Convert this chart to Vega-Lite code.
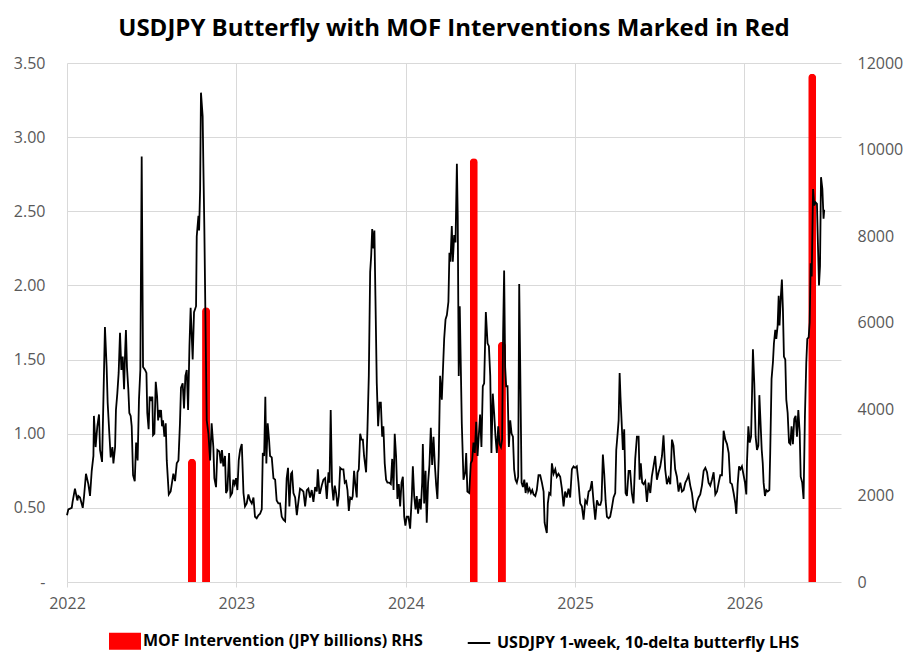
{
  "$schema": "https://vega.github.io/schema/vega-lite/v6.json",
  "description": "USDJPY 1-week 10-delta butterfly with MOF interventions",
  "width": 774,
  "height": 519,
  "autosize": {"type": "none"},
  "padding": {"left": 67, "top": 63, "right": 72, "bottom": 83},
  "background": "white",
  "title": {
    "text": "USDJPY Butterfly with MOF Interventions Marked in Red",
    "font": "Open Sans",
    "fontSize": 24,
    "fontWeight": "bold",
    "color": "#000000",
    "anchor": "middle",
    "offset": 14
  },
  "datasets": {
    "mof": [
      {"t": 2022.738, "amt": 2850},
      {"t": 2022.821, "amt": 6350},
      {"t": 2024.402, "amt": 9800},
      {"t": 2024.568, "amt": 5550},
      {"t": 2026.400, "amt": 11750}
    ],
    "fly": [
      {"t": 2022.000, "v": 0.45}, {"t": 2022.008, "v": 0.49}, {"t": 2022.028, "v": 0.50}, {"t": 2022.033, "v": 0.54},
      {"t": 2022.047, "v": 0.63}, {"t": 2022.061, "v": 0.55}, {"t": 2022.067, "v": 0.58}, {"t": 2022.077, "v": 0.57},
      {"t": 2022.093, "v": 0.50}, {"t": 2022.100, "v": 0.57}, {"t": 2022.112, "v": 0.73}, {"t": 2022.126, "v": 0.66},
      {"t": 2022.136, "v": 0.58}, {"t": 2022.146, "v": 0.75}, {"t": 2022.156, "v": 0.85}, {"t": 2022.159, "v": 1.12},
      {"t": 2022.169, "v": 0.91}, {"t": 2022.179, "v": 1.05}, {"t": 2022.189, "v": 1.13}, {"t": 2022.195, "v": 0.89},
      {"t": 2022.207, "v": 0.81}, {"t": 2022.215, "v": 1.23}, {"t": 2022.224, "v": 1.72}, {"t": 2022.234, "v": 1.45},
      {"t": 2022.240, "v": 1.21}, {"t": 2022.250, "v": 1.00}, {"t": 2022.258, "v": 0.84}, {"t": 2022.268, "v": 0.91},
      {"t": 2022.274, "v": 0.80}, {"t": 2022.284, "v": 0.91}, {"t": 2022.289, "v": 1.16}, {"t": 2022.297, "v": 1.27},
      {"t": 2022.305, "v": 1.41}, {"t": 2022.313, "v": 1.68}, {"t": 2022.321, "v": 1.43}, {"t": 2022.329, "v": 1.52},
      {"t": 2022.337, "v": 1.30}, {"t": 2022.343, "v": 1.55}, {"t": 2022.348, "v": 1.70}, {"t": 2022.354, "v": 1.45},
      {"t": 2022.362, "v": 1.30}, {"t": 2022.368, "v": 1.14}, {"t": 2022.376, "v": 1.12}, {"t": 2022.382, "v": 1.05},
      {"t": 2022.390, "v": 0.72}, {"t": 2022.400, "v": 0.68}, {"t": 2022.408, "v": 0.94}, {"t": 2022.417, "v": 0.82},
      {"t": 2022.425, "v": 1.23}, {"t": 2022.433, "v": 1.43}, {"t": 2022.441, "v": 2.87}, {"t": 2022.449, "v": 1.45},
      {"t": 2022.461, "v": 1.43}, {"t": 2022.469, "v": 1.41}, {"t": 2022.474, "v": 1.14}, {"t": 2022.482, "v": 1.03},
      {"t": 2022.488, "v": 1.25}, {"t": 2022.496, "v": 1.23}, {"t": 2022.504, "v": 1.25}, {"t": 2022.508, "v": 0.99},
      {"t": 2022.516, "v": 1.00}, {"t": 2022.524, "v": 1.35}, {"t": 2022.532, "v": 1.25}, {"t": 2022.538, "v": 1.09},
      {"t": 2022.543, "v": 1.16}, {"t": 2022.549, "v": 1.11}, {"t": 2022.555, "v": 1.16}, {"t": 2022.561, "v": 1.05},
      {"t": 2022.567, "v": 1.09}, {"t": 2022.575, "v": 0.98}, {"t": 2022.583, "v": 1.07}, {"t": 2022.589, "v": 0.82},
      {"t": 2022.601, "v": 0.59}, {"t": 2022.612, "v": 0.61}, {"t": 2022.620, "v": 0.67}, {"t": 2022.628, "v": 0.73},
      {"t": 2022.638, "v": 0.68}, {"t": 2022.648, "v": 0.80}, {"t": 2022.658, "v": 0.82}, {"t": 2022.667, "v": 1.07},
      {"t": 2022.673, "v": 1.31}, {"t": 2022.683, "v": 1.34}, {"t": 2022.691, "v": 1.17}, {"t": 2022.699, "v": 1.39},
      {"t": 2022.707, "v": 1.43}, {"t": 2022.715, "v": 1.16}, {"t": 2022.723, "v": 1.59}, {"t": 2022.730, "v": 1.85},
      {"t": 2022.742, "v": 1.50}, {"t": 2022.750, "v": 1.82}, {"t": 2022.762, "v": 1.86}, {"t": 2022.766, "v": 2.33},
      {"t": 2022.776, "v": 2.47}, {"t": 2022.780, "v": 2.37}, {"t": 2022.786, "v": 2.65}, {"t": 2022.791, "v": 3.30},
      {"t": 2022.801, "v": 3.14}, {"t": 2022.805, "v": 2.82}, {"t": 2022.811, "v": 2.38}, {"t": 2022.817, "v": 1.82},
      {"t": 2022.825, "v": 1.09}, {"t": 2022.835, "v": 1.00}, {"t": 2022.845, "v": 0.82}, {"t": 2022.854, "v": 1.07},
      {"t": 2022.864, "v": 0.91}, {"t": 2022.870, "v": 0.70}, {"t": 2022.880, "v": 0.64}, {"t": 2022.888, "v": 0.89},
      {"t": 2022.900, "v": 0.88}, {"t": 2022.908, "v": 0.80}, {"t": 2022.915, "v": 0.89}, {"t": 2022.923, "v": 0.78},
      {"t": 2022.933, "v": 0.85}, {"t": 2022.939, "v": 0.60}, {"t": 2022.947, "v": 0.62}, {"t": 2022.957, "v": 0.87},
      {"t": 2022.965, "v": 0.58}, {"t": 2022.975, "v": 0.60}, {"t": 2022.982, "v": 0.69}, {"t": 2022.990, "v": 0.66},
      {"t": 2022.998, "v": 0.70}, {"t": 2023.006, "v": 0.62}, {"t": 2023.014, "v": 0.82}, {"t": 2023.022, "v": 0.89},
      {"t": 2023.032, "v": 0.93}, {"t": 2023.042, "v": 0.60}, {"t": 2023.051, "v": 0.51}, {"t": 2023.061, "v": 0.53},
      {"t": 2023.071, "v": 0.59}, {"t": 2023.081, "v": 0.55}, {"t": 2023.091, "v": 0.53}, {"t": 2023.101, "v": 0.57},
      {"t": 2023.110, "v": 0.44}, {"t": 2023.120, "v": 0.43}, {"t": 2023.130, "v": 0.45}, {"t": 2023.140, "v": 0.46},
      {"t": 2023.150, "v": 0.49}, {"t": 2023.156, "v": 0.87}, {"t": 2023.164, "v": 0.85}, {"t": 2023.171, "v": 1.25},
      {"t": 2023.177, "v": 0.80}, {"t": 2023.185, "v": 1.07}, {"t": 2023.193, "v": 0.96}, {"t": 2023.199, "v": 0.85},
      {"t": 2023.209, "v": 0.84}, {"t": 2023.219, "v": 0.70}, {"t": 2023.229, "v": 0.69}, {"t": 2023.238, "v": 0.55},
      {"t": 2023.248, "v": 0.53}, {"t": 2023.258, "v": 0.53}, {"t": 2023.268, "v": 0.44}, {"t": 2023.278, "v": 0.42},
      {"t": 2023.288, "v": 0.41}, {"t": 2023.297, "v": 0.70}, {"t": 2023.305, "v": 0.77}, {"t": 2023.313, "v": 0.51},
      {"t": 2023.323, "v": 0.73}, {"t": 2023.329, "v": 0.74}, {"t": 2023.337, "v": 0.60}, {"t": 2023.347, "v": 0.57},
      {"t": 2023.357, "v": 0.45}, {"t": 2023.364, "v": 0.52}, {"t": 2023.376, "v": 0.63}, {"t": 2023.388, "v": 0.62},
      {"t": 2023.396, "v": 0.61}, {"t": 2023.406, "v": 0.51}, {"t": 2023.416, "v": 0.62}, {"t": 2023.425, "v": 0.63},
      {"t": 2023.435, "v": 0.57}, {"t": 2023.445, "v": 0.62}, {"t": 2023.455, "v": 0.54}, {"t": 2023.465, "v": 0.64},
      {"t": 2023.475, "v": 0.61}, {"t": 2023.481, "v": 0.76}, {"t": 2023.490, "v": 0.60}, {"t": 2023.494, "v": 0.60},
      {"t": 2023.504, "v": 0.65}, {"t": 2023.514, "v": 0.69}, {"t": 2023.524, "v": 0.70}, {"t": 2023.534, "v": 0.56},
      {"t": 2023.544, "v": 0.74}, {"t": 2023.550, "v": 0.67}, {"t": 2023.557, "v": 1.16}, {"t": 2023.565, "v": 0.65},
      {"t": 2023.573, "v": 0.55}, {"t": 2023.581, "v": 0.65}, {"t": 2023.589, "v": 0.60}, {"t": 2023.597, "v": 0.51},
      {"t": 2023.605, "v": 0.58}, {"t": 2023.613, "v": 0.77}, {"t": 2023.622, "v": 0.76}, {"t": 2023.632, "v": 0.76},
      {"t": 2023.640, "v": 0.67}, {"t": 2023.648, "v": 0.68}, {"t": 2023.656, "v": 0.62}, {"t": 2023.664, "v": 0.48},
      {"t": 2023.672, "v": 0.57}, {"t": 2023.682, "v": 0.56}, {"t": 2023.687, "v": 0.58}, {"t": 2023.695, "v": 0.75},
      {"t": 2023.703, "v": 0.65}, {"t": 2023.711, "v": 0.57}, {"t": 2023.715, "v": 0.74}, {"t": 2023.723, "v": 0.76},
      {"t": 2023.731, "v": 1.00}, {"t": 2023.739, "v": 0.96}, {"t": 2023.747, "v": 0.96}, {"t": 2023.754, "v": 0.85},
      {"t": 2023.766, "v": 0.74}, {"t": 2023.774, "v": 1.03}, {"t": 2023.782, "v": 1.39}, {"t": 2023.790, "v": 2.09},
      {"t": 2023.796, "v": 2.20}, {"t": 2023.802, "v": 2.38}, {"t": 2023.809, "v": 2.25}, {"t": 2023.815, "v": 2.37},
      {"t": 2023.821, "v": 1.93}, {"t": 2023.829, "v": 1.34}, {"t": 2023.837, "v": 1.05}, {"t": 2023.845, "v": 1.21},
      {"t": 2023.853, "v": 1.21}, {"t": 2023.861, "v": 0.98}, {"t": 2023.868, "v": 1.05}, {"t": 2023.876, "v": 0.80},
      {"t": 2023.884, "v": 0.69}, {"t": 2023.892, "v": 0.67}, {"t": 2023.902, "v": 0.67}, {"t": 2023.912, "v": 0.66},
      {"t": 2023.920, "v": 0.83}, {"t": 2023.928, "v": 0.62}, {"t": 2023.935, "v": 1.00}, {"t": 2023.943, "v": 0.85},
      {"t": 2023.951, "v": 0.56}, {"t": 2023.959, "v": 0.66}, {"t": 2023.967, "v": 0.51}, {"t": 2023.975, "v": 0.67},
      {"t": 2023.983, "v": 0.71}, {"t": 2023.991, "v": 0.44}, {"t": 2023.998, "v": 0.38}, {"t": 2024.006, "v": 0.44},
      {"t": 2024.016, "v": 0.44}, {"t": 2024.026, "v": 0.36}, {"t": 2024.036, "v": 0.58}, {"t": 2024.042, "v": 0.78},
      {"t": 2024.050, "v": 0.58}, {"t": 2024.058, "v": 0.49}, {"t": 2024.065, "v": 0.58}, {"t": 2024.073, "v": 0.46},
      {"t": 2024.081, "v": 0.56}, {"t": 2024.089, "v": 0.49}, {"t": 2024.097, "v": 0.67}, {"t": 2024.101, "v": 0.93},
      {"t": 2024.109, "v": 0.53}, {"t": 2024.117, "v": 0.75}, {"t": 2024.124, "v": 0.40}, {"t": 2024.132, "v": 0.67},
      {"t": 2024.140, "v": 0.79}, {"t": 2024.148, "v": 1.04}, {"t": 2024.156, "v": 0.79}, {"t": 2024.164, "v": 0.98},
      {"t": 2024.172, "v": 0.79}, {"t": 2024.180, "v": 0.65}, {"t": 2024.187, "v": 0.56}, {"t": 2024.195, "v": 0.85},
      {"t": 2024.203, "v": 1.39}, {"t": 2024.213, "v": 1.23}, {"t": 2024.219, "v": 1.41}, {"t": 2024.227, "v": 1.64},
      {"t": 2024.235, "v": 1.77}, {"t": 2024.243, "v": 1.80}, {"t": 2024.252, "v": 1.89}, {"t": 2024.258, "v": 2.22},
      {"t": 2024.264, "v": 2.16}, {"t": 2024.272, "v": 2.40}, {"t": 2024.278, "v": 2.16}, {"t": 2024.286, "v": 2.34},
      {"t": 2024.294, "v": 2.29}, {"t": 2024.302, "v": 2.82}, {"t": 2024.307, "v": 2.47}, {"t": 2024.313, "v": 1.39},
      {"t": 2024.319, "v": 1.86}, {"t": 2024.331, "v": 1.07}, {"t": 2024.341, "v": 0.69}, {"t": 2024.351, "v": 0.74},
      {"t": 2024.357, "v": 0.87}, {"t": 2024.364, "v": 0.61}, {"t": 2024.375, "v": 0.60}, {"t": 2024.384, "v": 0.80},
      {"t": 2024.392, "v": 0.82}, {"t": 2024.400, "v": 0.94}, {"t": 2024.408, "v": 0.87}, {"t": 2024.416, "v": 1.08},
      {"t": 2024.424, "v": 0.85}, {"t": 2024.432, "v": 1.00}, {"t": 2024.439, "v": 1.13}, {"t": 2024.447, "v": 0.91},
      {"t": 2024.455, "v": 1.32}, {"t": 2024.463, "v": 1.34}, {"t": 2024.473, "v": 1.82}, {"t": 2024.483, "v": 1.61},
      {"t": 2024.491, "v": 1.59}, {"t": 2024.499, "v": 1.39}, {"t": 2024.506, "v": 0.87}, {"t": 2024.514, "v": 1.27},
      {"t": 2024.522, "v": 1.14}, {"t": 2024.530, "v": 0.98}, {"t": 2024.538, "v": 0.87}, {"t": 2024.546, "v": 1.05},
      {"t": 2024.554, "v": 0.93}, {"t": 2024.562, "v": 0.91}, {"t": 2024.569, "v": 0.96}, {"t": 2024.575, "v": 1.68},
      {"t": 2024.581, "v": 2.10}, {"t": 2024.587, "v": 1.45}, {"t": 2024.593, "v": 1.32}, {"t": 2024.601, "v": 1.32},
      {"t": 2024.609, "v": 0.91}, {"t": 2024.617, "v": 1.09}, {"t": 2024.625, "v": 1.00}, {"t": 2024.633, "v": 0.98},
      {"t": 2024.640, "v": 0.76}, {"t": 2024.648, "v": 0.69}, {"t": 2024.656, "v": 0.67}, {"t": 2024.664, "v": 0.71},
      {"t": 2024.670, "v": 2.01}, {"t": 2024.676, "v": 1.45}, {"t": 2024.684, "v": 0.67}, {"t": 2024.692, "v": 0.64},
      {"t": 2024.700, "v": 0.69}, {"t": 2024.708, "v": 0.60}, {"t": 2024.715, "v": 0.67}, {"t": 2024.723, "v": 0.61},
      {"t": 2024.731, "v": 0.63}, {"t": 2024.739, "v": 0.60}, {"t": 2024.747, "v": 0.62}, {"t": 2024.755, "v": 0.59},
      {"t": 2024.765, "v": 0.58}, {"t": 2024.774, "v": 0.62}, {"t": 2024.784, "v": 0.72}, {"t": 2024.794, "v": 0.72},
      {"t": 2024.804, "v": 0.67}, {"t": 2024.814, "v": 0.61}, {"t": 2024.820, "v": 0.40}, {"t": 2024.827, "v": 0.36},
      {"t": 2024.833, "v": 0.33}, {"t": 2024.839, "v": 0.53}, {"t": 2024.847, "v": 0.60}, {"t": 2024.855, "v": 0.59},
      {"t": 2024.863, "v": 0.80}, {"t": 2024.873, "v": 0.73}, {"t": 2024.883, "v": 0.76}, {"t": 2024.892, "v": 0.71},
      {"t": 2024.902, "v": 0.73}, {"t": 2024.912, "v": 0.71}, {"t": 2024.922, "v": 0.63}, {"t": 2024.932, "v": 0.51},
      {"t": 2024.941, "v": 0.61}, {"t": 2024.951, "v": 0.57}, {"t": 2024.961, "v": 0.63}, {"t": 2024.971, "v": 0.57},
      {"t": 2024.981, "v": 0.76}, {"t": 2024.991, "v": 0.78}, {"t": 2025.000, "v": 0.77}, {"t": 2025.010, "v": 0.78},
      {"t": 2025.020, "v": 0.67}, {"t": 2025.030, "v": 0.53}, {"t": 2025.040, "v": 0.51}, {"t": 2025.050, "v": 0.42},
      {"t": 2025.060, "v": 0.55}, {"t": 2025.070, "v": 0.53}, {"t": 2025.080, "v": 0.61}, {"t": 2025.089, "v": 0.62},
      {"t": 2025.099, "v": 0.68}, {"t": 2025.109, "v": 0.54}, {"t": 2025.119, "v": 0.42}, {"t": 2025.129, "v": 0.55},
      {"t": 2025.139, "v": 0.52}, {"t": 2025.149, "v": 0.52}, {"t": 2025.156, "v": 0.55}, {"t": 2025.164, "v": 0.86},
      {"t": 2025.172, "v": 0.73}, {"t": 2025.180, "v": 0.55}, {"t": 2025.188, "v": 0.44}, {"t": 2025.198, "v": 0.43},
      {"t": 2025.207, "v": 0.44}, {"t": 2025.217, "v": 0.50}, {"t": 2025.227, "v": 0.57}, {"t": 2025.237, "v": 0.60},
      {"t": 2025.243, "v": 0.89}, {"t": 2025.251, "v": 1.00}, {"t": 2025.257, "v": 1.09}, {"t": 2025.263, "v": 1.41},
      {"t": 2025.268, "v": 1.25}, {"t": 2025.274, "v": 1.10}, {"t": 2025.282, "v": 0.89}, {"t": 2025.290, "v": 1.03},
      {"t": 2025.298, "v": 0.60}, {"t": 2025.306, "v": 0.58}, {"t": 2025.316, "v": 0.75}, {"t": 2025.325, "v": 0.75},
      {"t": 2025.335, "v": 0.60}, {"t": 2025.345, "v": 0.53}, {"t": 2025.355, "v": 0.83}, {"t": 2025.365, "v": 0.98},
      {"t": 2025.375, "v": 0.98}, {"t": 2025.381, "v": 0.69}, {"t": 2025.388, "v": 0.80}, {"t": 2025.396, "v": 0.67},
      {"t": 2025.404, "v": 0.66}, {"t": 2025.414, "v": 0.68}, {"t": 2025.424, "v": 0.54}, {"t": 2025.434, "v": 0.67},
      {"t": 2025.444, "v": 0.60}, {"t": 2025.453, "v": 0.71}, {"t": 2025.463, "v": 0.78}, {"t": 2025.473, "v": 0.85},
      {"t": 2025.483, "v": 0.69}, {"t": 2025.493, "v": 0.74}, {"t": 2025.503, "v": 0.78}, {"t": 2025.513, "v": 0.85},
      {"t": 2025.522, "v": 0.99}, {"t": 2025.532, "v": 0.76}, {"t": 2025.542, "v": 0.66}, {"t": 2025.552, "v": 0.70},
      {"t": 2025.562, "v": 0.66}, {"t": 2025.572, "v": 0.96}, {"t": 2025.581, "v": 0.92}, {"t": 2025.591, "v": 0.76},
      {"t": 2025.601, "v": 0.71}, {"t": 2025.611, "v": 0.61}, {"t": 2025.621, "v": 0.67}, {"t": 2025.631, "v": 0.61},
      {"t": 2025.641, "v": 0.62}, {"t": 2025.651, "v": 0.67}, {"t": 2025.660, "v": 0.69}, {"t": 2025.670, "v": 0.72},
      {"t": 2025.680, "v": 0.65}, {"t": 2025.690, "v": 0.60}, {"t": 2025.700, "v": 0.50}, {"t": 2025.710, "v": 0.48},
      {"t": 2025.720, "v": 0.54}, {"t": 2025.729, "v": 0.57}, {"t": 2025.739, "v": 0.59}, {"t": 2025.749, "v": 0.65},
      {"t": 2025.759, "v": 0.75}, {"t": 2025.769, "v": 0.77}, {"t": 2025.779, "v": 0.74}, {"t": 2025.788, "v": 0.67},
      {"t": 2025.798, "v": 0.65}, {"t": 2025.808, "v": 0.69}, {"t": 2025.818, "v": 0.74}, {"t": 2025.828, "v": 0.59},
      {"t": 2025.838, "v": 0.61}, {"t": 2025.848, "v": 0.67}, {"t": 2025.857, "v": 0.72}, {"t": 2025.867, "v": 0.72},
      {"t": 2025.877, "v": 1.02}, {"t": 2025.887, "v": 0.96}, {"t": 2025.897, "v": 0.93}, {"t": 2025.907, "v": 0.87},
      {"t": 2025.916, "v": 0.67}, {"t": 2025.926, "v": 0.66}, {"t": 2025.936, "v": 0.60}, {"t": 2025.946, "v": 0.53},
      {"t": 2025.952, "v": 0.46}, {"t": 2025.960, "v": 0.66}, {"t": 2025.968, "v": 0.78}, {"t": 2025.976, "v": 0.76},
      {"t": 2025.985, "v": 0.78}, {"t": 2025.995, "v": 0.72}, {"t": 2026.003, "v": 0.67}, {"t": 2026.011, "v": 0.59},
      {"t": 2026.015, "v": 0.81}, {"t": 2026.023, "v": 1.05}, {"t": 2026.031, "v": 0.94}, {"t": 2026.039, "v": 0.98},
      {"t": 2026.044, "v": 1.23}, {"t": 2026.050, "v": 1.57}, {"t": 2026.058, "v": 1.34}, {"t": 2026.066, "v": 0.98},
      {"t": 2026.074, "v": 0.89}, {"t": 2026.082, "v": 0.92}, {"t": 2026.088, "v": 1.26}, {"t": 2026.094, "v": 1.10},
      {"t": 2026.102, "v": 0.89}, {"t": 2026.108, "v": 0.80}, {"t": 2026.113, "v": 0.67}, {"t": 2026.121, "v": 0.58},
      {"t": 2026.129, "v": 0.62}, {"t": 2026.137, "v": 0.61}, {"t": 2026.147, "v": 0.62}, {"t": 2026.152, "v": 0.87},
      {"t": 2026.160, "v": 1.37}, {"t": 2026.168, "v": 1.48}, {"t": 2026.174, "v": 1.61}, {"t": 2026.182, "v": 1.70},
      {"t": 2026.188, "v": 1.64}, {"t": 2026.196, "v": 1.73}, {"t": 2026.202, "v": 1.93}, {"t": 2026.207, "v": 1.73},
      {"t": 2026.215, "v": 1.93}, {"t": 2026.221, "v": 2.04}, {"t": 2026.227, "v": 1.84}, {"t": 2026.233, "v": 1.52},
      {"t": 2026.241, "v": 1.50}, {"t": 2026.247, "v": 1.23}, {"t": 2026.255, "v": 1.14}, {"t": 2026.263, "v": 0.94},
      {"t": 2026.271, "v": 0.93}, {"t": 2026.278, "v": 1.05}, {"t": 2026.286, "v": 0.93}, {"t": 2026.294, "v": 1.10},
      {"t": 2026.302, "v": 1.12}, {"t": 2026.310, "v": 0.98}, {"t": 2026.318, "v": 1.16}, {"t": 2026.326, "v": 1.01},
      {"t": 2026.332, "v": 0.71}, {"t": 2026.341, "v": 0.67}, {"t": 2026.349, "v": 0.56}, {"t": 2026.357, "v": 1.12},
      {"t": 2026.365, "v": 1.48}, {"t": 2026.371, "v": 1.64}, {"t": 2026.379, "v": 1.65}, {"t": 2026.385, "v": 1.75},
      {"t": 2026.391, "v": 2.15}, {"t": 2026.397, "v": 2.06}, {"t": 2026.405, "v": 2.65}, {"t": 2026.412, "v": 2.54},
      {"t": 2026.420, "v": 2.56}, {"t": 2026.428, "v": 2.55}, {"t": 2026.434, "v": 2.27}, {"t": 2026.440, "v": 2.00},
      {"t": 2026.446, "v": 2.13}, {"t": 2026.452, "v": 2.73}, {"t": 2026.460, "v": 2.65}, {"t": 2026.467, "v": 2.45},
      {"t": 2026.471, "v": 2.51}
    ]
  },
  "encoding": {
    "x": {
      "field": "t",
      "type": "quantitative",
      "scale": {"domain": [2022, 2026.57], "nice": false, "zero": false, "padding": 0},
      "axis": {
        "title": null,
        "values": [2022, 2023, 2024, 2025, 2026],
        "format": "d",
        "grid": true,
        "gridColor": "#d9d9d9",
        "domain": false,
        "ticks": true,
        "tickSize": 5,
        "tickColor": "#d9d9d9",
        "labelFlush": false,
        "labelPadding": 8,
        "labelFont": "Open Sans",
        "labelFontSize": 16,
        "labelColor": "#595959"
      }
    }
  },
  "layer": [
    {
      "data": {"name": "mof"},
      "mark": {"type": "bar", "width": 8, "cornerRadiusEnd": 4, "color": "#ff0000"},
      "encoding": {
        "y": {
          "field": "amt",
          "type": "quantitative",
          "scale": {"domain": [0, 12000], "nice": false},
          "axis": {
            "orient": "right",
            "title": null,
            "values": [0, 2000, 4000, 6000, 8000, 10000, 12000],
            "format": "d",
            "grid": false,
            "domain": false,
            "ticks": false,
            "labelPadding": 16,
            "labelFont": "Open Sans",
            "labelFontSize": 16,
            "labelColor": "#595959"
          }
        },
        "color": {
          "datum": "MOF Intervention (JPY billions) RHS",
          "scale": {
            "domain": ["MOF Intervention (JPY billions) RHS", "USDJPY 1-week, 10-delta butterfly LHS"],
            "range": ["#ff0000", "#000000"]
          },
          "legend": {
            "title": null,
            "orient": "bottom",
            "direction": "horizontal",
            "offset": 14,
            "symbolSize": 900,
            "columnPadding": 40,
            "labelFont": "Open Sans",
            "labelFontSize": 16,
            "labelFontWeight": "bold",
            "labelColor": "#000000",
            "labelLimit": 500,
            "labelOffset": 2,
            "encode": {
              "symbols": {
                "update": {
                  "shape": {"signal": "datum.label === 'MOF Intervention (JPY billions) RHS' ? 'M-1,-0.5H1V0.5H-1Z' : 'M-0.75,0H0.75'"},
                  "fill": {"signal": "datum.label === 'MOF Intervention (JPY billions) RHS' ? '#ff0000' : 'transparent'"},
                  "stroke": {"signal": "datum.label === 'MOF Intervention (JPY billions) RHS' ? '#ff0000' : '#000000'"},
                  "strokeWidth": {"value": 2}
                }
              }
            }
          }
        }
      }
    },
    {
      "data": {"name": "fly"},
      "mark": {"type": "line", "strokeWidth": 1.8, "interpolate": "linear"},
      "encoding": {
        "y": {
          "field": "v",
          "type": "quantitative",
          "scale": {"domain": [0, 3.5], "nice": false},
          "axis": {
            "orient": "left",
            "title": null,
            "values": [0, 0.5, 1, 1.5, 2, 2.5, 3, 3.5],
            "labelExpr": "datum.value === 0 ? '-\u00a0\u00a0' : format(datum.value, '.2f')",
            "grid": true,
            "gridColor": "#d9d9d9",
            "domain": false,
            "ticks": false,
            "labelPadding": 22,
            "labelFont": "Open Sans",
            "labelFontSize": 16,
            "labelColor": "#595959"
          }
        },
        "color": {"datum": "USDJPY 1-week, 10-delta butterfly LHS"}
      }
    }
  ],
  "resolve": {"scale": {"y": "independent"}},
  "config": {
    "view": {"stroke": null},
    "legend": {"layout": {"bottom": {"anchor": "middle"}}}
  }
}
